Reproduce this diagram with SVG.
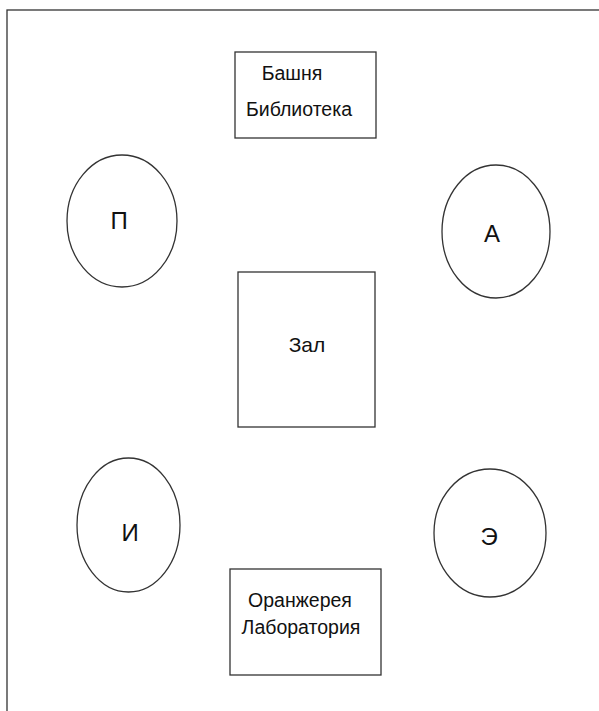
<svg xmlns="http://www.w3.org/2000/svg" width="599" height="711" viewBox="0 0 599 711">
<style>
.s{fill:#fff;stroke:#333;stroke-width:1.3}
.t{font-family:"Liberation Sans",Arial,sans-serif;fill:#111;text-anchor:middle}
.sm{font-size:19.5px}
.lg{font-size:24px}
.md{font-size:21px}
</style>
<rect x="0" y="0" width="599" height="711" fill="#fff"/>
<rect x="7" y="10" width="600" height="710" fill="none" stroke="#333" stroke-width="1.3"/>
<g id="top">
<rect class="s" x="235" y="52" width="141" height="86"/>
<text class="t sm" x="292" y="80">Башня</text>
<text class="t sm" x="299" y="116">Библиотека</text>
</g>
<g id="p">
<ellipse class="s" cx="122" cy="221" rx="55" ry="66"/>
<text class="t lg" x="119" y="229">П</text>
</g>
<g id="a">
<ellipse class="s" cx="496" cy="231.5" rx="54" ry="66.5"/>
<text class="t lg" x="492" y="242">А</text>
</g>
<g id="zal">
<rect class="s" x="238" y="272" width="137" height="155"/>
<text class="t md" x="307" y="352">Зал</text>
</g>
<g id="i">
<ellipse class="s" cx="128.5" cy="525" rx="51.5" ry="67"/>
<text class="t lg" x="130" y="541">И</text>
</g>
<g id="e">
<ellipse class="s" cx="490" cy="533" rx="56" ry="64"/>
<text class="t lg" x="489" y="545">Э</text>
</g>
<g id="bottom">
<rect class="s" x="230" y="569" width="151" height="106"/>
<text class="t sm" x="300" y="607">Оранжерея</text>
<text class="t sm" x="301" y="634">Лаборатория</text>
</g>
<g id="connectors"></g>
</svg>
